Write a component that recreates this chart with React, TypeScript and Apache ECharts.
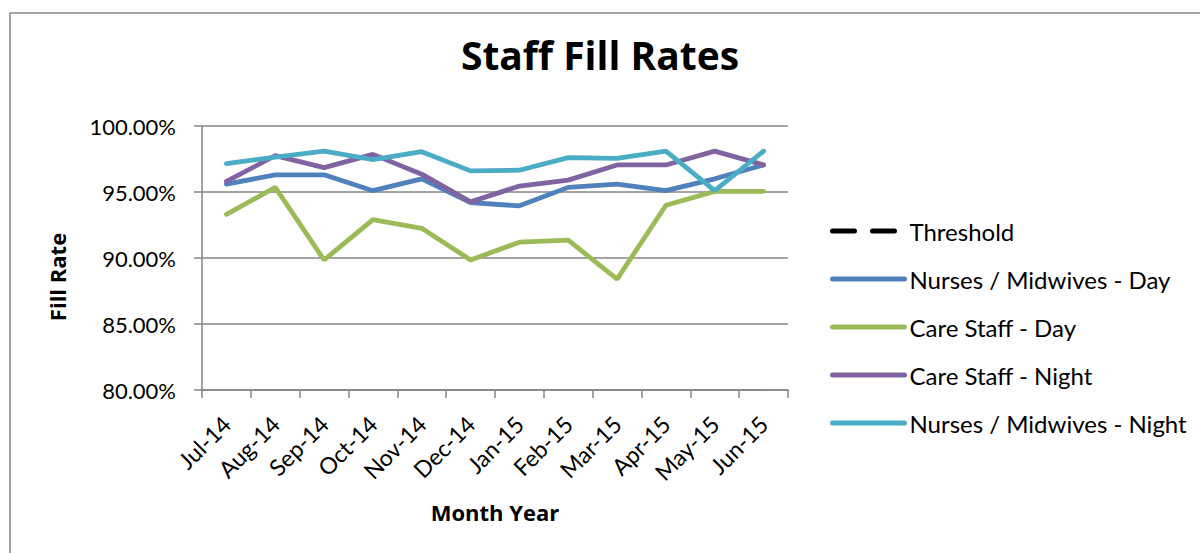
import React, { useEffect, useRef } from "react";
import * as echarts from "echarts";

const categories = ["Jul-14", "Aug-14", "Sep-14", "Oct-14", "Nov-14", "Dec-14", "Jan-15", "Feb-15", "Mar-15", "Apr-15", "May-15", "Jun-15"];
const threshold: (number | null)[] = [];
const nursesDay = [95.6, 96.3, 96.3, 95.1, 96.0, 94.2, 93.95, 95.35, 95.6, 95.1, 96.0, 97.05];
const careDay = [93.3, 95.35, 89.85, 92.9, 92.25, 89.85, 91.2, 91.35, 88.4, 94.0, 95.05, 95.05];
const careNight = [95.8, 97.75, 96.85, 97.85, 96.35, 94.25, 95.45, 95.9, 97.05, 97.05, 98.1, 97.05];
const nursesNight = [97.15, 97.65, 98.1, 97.45, 98.05, 96.6, 96.65, 97.6, 97.55, 98.1, 95.1, 98.1];
const yTicks = { min: 80, max: 100, interval: 5 };

const FONT = "Lato, 'Open Sans', sans-serif";
const BOLD = "'Open Sans', Lato, sans-serif";

const seriesDefs = [
  { name: "Threshold", data: threshold, color: "#000000", dashed: true },
  { name: "Nurses / Midwives - Day", data: nursesDay, color: "#4F81BD", dashed: false },
  { name: "Care Staff - Day", data: careDay, color: "#9BBB59", dashed: false },
  { name: "Care Staff - Night", data: careNight, color: "#8064A2", dashed: false },
  { name: "Nurses / Midwives - Night", data: nursesNight, color: "#4BACC6", dashed: false },
];

export default function App() {
  const ref = useRef<HTMLDivElement>(null);
  useEffect(() => {
    document.body.style.margin = "0";
    const chart = echarts.init(ref.current!, null, { renderer: "svg" });
    chart.setOption({
      animation: false,
      backgroundColor: "#ffffff",
      textStyle: { fontFamily: FONT },
      title: {
        text: "Staff Fill Rates",
        left: 595,
        top: 30,
        textAlign: "center",
        textStyle: { fontFamily: BOLD, fontSize: 39, fontWeight: "bold", color: "#000" },
      },
      legend: {
        orient: "vertical",
        left: 825,
        top: 213,
        itemWidth: 72,
        itemHeight: 14,
        itemGap: 22,
        itemStyle: { opacity: 0, color: "transparent", borderWidth: 0 },
        lineStyle: { width: 5, cap: "round" },
        textStyle: { fontFamily: FONT, fontSize: 24, color: "#000", lineHeight: 26 },
        data: seriesDefs.map((s) => ({
          name: s.name,
          lineStyle: { color: s.color, width: 5, type: s.dashed ? [22, 18] : "solid", cap: "round" },
          itemStyle: { opacity: 0 },
        })),
      },
      grid: { left: 202, top: 126, width: 586, height: 264, containLabel: false },
      xAxis: {
        type: "category",
        data: categories,
        boundaryGap: true,
        name: "Month Year",
        nameLocation: "middle",
        nameGap: 111,
        nameTextStyle: { fontFamily: BOLD, fontSize: 22, fontWeight: "bold", color: "#000" },
        axisLine: { lineStyle: { color: "#868686", width: 1.5 } },
        axisTick: { show: true, alignWithLabel: false, length: 8, lineStyle: { color: "#868686", width: 1.5 } },
        axisLabel: { rotate: 45, margin: 30, fontFamily: FONT, fontSize: 23, color: "#000", interval: 0 },
      },
      yAxis: {
        type: "value",
        min: yTicks.min,
        max: yTicks.max,
        interval: yTicks.interval,
        axisLine: { show: true, lineStyle: { color: "#868686", width: 1.5 } },
        axisTick: { show: true, length: 8, lineStyle: { color: "#868686", width: 1.5 } },
        axisLabel: { margin: 26, fontFamily: FONT, fontSize: 22, color: "#000", formatter: (v: number) => v.toFixed(2) + "%" },
        splitLine: { show: true, lineStyle: { color: "#868686", width: 1.5 } },
      },
      graphic: [
        {
          type: "rect",
          shape: { x: 10, y: 13, width: 1300, height: 700 },
          style: { fill: "none", stroke: "#868686", lineWidth: 1.5 },
          silent: true,
        },
        {
          type: "text",
          x: 57,
          y: 277,
          rotation: Math.PI / 2,
          style: {
            text: "Fill Rate",
            fontFamily: BOLD,
            fontSize: 22,
            fontWeight: "bold",
            fill: "#000",
            align: "center",
            verticalAlign: "middle",
          },
        },
      ],
      series: seriesDefs.map((s) => ({
        name: s.name,
        type: "line",
        data: s.data,
        symbol: "none",
        color: s.color,
        lineStyle: { color: s.color, width: 4.8, type: s.dashed ? [22, 18] : "solid", cap: "round" },
      })),
    });
    return () => chart.dispose();
  }, []);
  return <div ref={ref} style={{ width: 1200, height: 553 }} />;
}
